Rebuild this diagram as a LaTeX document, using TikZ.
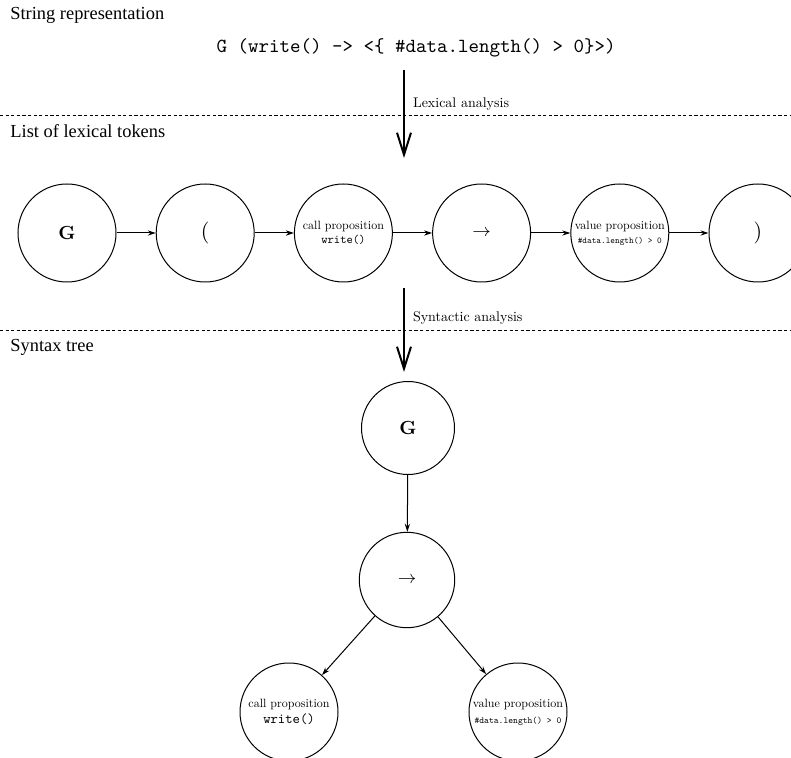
\documentclass[tikz,border=0pt]{standalone}
\usepackage{fontspec}
\setmainfont{lmroman10-regular.otf}[BoldFont=lmroman10-bold.otf]
\setmonofont{lmmono10-regular.otf}
\newfontfamily\headfont{Liberation Serif}
\usetikzlibrary{arrows.meta, positioning}

\begin{document}
\begin{tikzpicture}[
  x=0.5pt, y=-0.5pt,
  node distance=19.6pt,
  token/.style={circle, draw, line width=0.5pt, minimum size=49pt, inner sep=-20pt, align=center, font=\fontsize{6}{7}\selectfont},
  treetoken/.style={token, minimum size=46.5pt},
  heading/.style={anchor=base west, inner sep=0pt, font=\headfont\fontsize{9.2}{11}\selectfont},
  steplabel/.style={right, inner sep=4pt, font=\fontsize{7}{8}\selectfont},
  sep/.style={line width=0.4pt, dash pattern=on 1.6pt off 1.2pt},
  link/.style={-{Stealth[length=4pt, width=2.6pt]}, line width=0.5pt},
  phase/.style={-{Straight Barb[length=11pt, width=7pt]}, line width=1pt}
]
\useasboundingbox (0,0) rectangle (791,758);

% String representation
\node[heading] (strhead) at (10,20) {String representation};
\node[anchor=base, inner sep=0pt, font=\ttfamily\fontsize{10}{12}\selectfont] (input) at (416,53) {G (write() -> <\{ \#data.length() > 0\}>)};
\draw[sep] (0,115) -- (791,115);

% Lexical analysis
\coordinate (lexstart) at (404,70);
\coordinate (lexend) at (404,158);
\draw[phase] (lexstart) -- node[steplabel, pos=0.39] {Lexical analysis} (lexend);

% List of lexical tokens
\node[heading] (lexhead) at (10,138) {List of lexical tokens};
\node[token, font=\bfseries\fontsize{9.5}{11}\selectfont] (g) at (67,233) {G};
\node[token, right=of g, font=\fontsize{11}{12}\selectfont] (lparen) {(};
\node[token, right=of lparen] (call) {call proposition\\{\ttfamily write()}};
\node[token, right=of call, font=\fontsize{9.5}{11}\selectfont] (impl) {$\rightarrow$};
\node[token, right=of impl] (value) {value proposition\\{\ttfamily\fontsize{4.45}{5}\selectfont \#data.length() > 0}};
\node[token, right=of value, font=\fontsize{11}{12}\selectfont] (rparen) {)};

\draw[link] (g) -- (lparen);
\draw[link] (lparen) -- (call);
\draw[link] (call) -- (impl);
\draw[link] (impl) -- (value);
\draw[link] (value) -- (rparen);

% Syntactic analysis
\coordinate (synstart) at (404,288);
\coordinate (synend) at (404,372);
\draw[phase] (synstart) -- node[steplabel, pos=0.36] {Syntactic analysis} (synend);
\draw[sep] (0,330) -- (791,330);

% Syntax tree
\node[heading] (synhead) at (10,352) {Syntax tree};
\node[treetoken, font=\bfseries\fontsize{9.5}{11}\selectfont] (gt) at (408,428) {G};
\node[treetoken, font=\fontsize{9.5}{11}\selectfont] (implt) at (407,580) {$\rightarrow$};
\node[token, font=\fontsize{6}{8}\selectfont] (callt) at (289,712) {call proposition\\{\ttfamily\fontsize{7}{8}\selectfont write()}};
\node[token, font=\fontsize{6}{8}\selectfont] (valuet) at (518,712) {value proposition\\{\ttfamily\fontsize{4.6}{6}\selectfont \#data.length() > 0}};

\draw[link] (gt) -- (implt);
\draw[link] (implt) -- (callt);
\draw[link] (implt) -- (valuet);

\end{tikzpicture}
\end{document}
